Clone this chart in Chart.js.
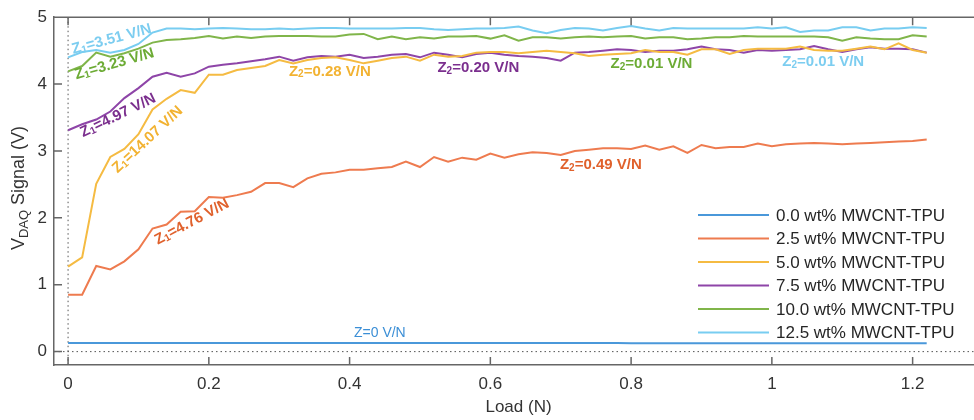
<!DOCTYPE html>
<html>
<head>
<meta charset="utf-8">
<script src="https://cdn.jsdelivr.net/npm/chart.js@4/dist/chart.umd.min.js"></script>
<style>
  html, body { margin: 0; padding: 0; background: #fff; overflow: hidden; }
  #wrap { width: 983px; height: 420px; position: relative; }
</style>
</head>
<body>
<div id="wrap"><canvas id="sensor_chart"></canvas></div>
<script>
const loads = [0.00, 0.02, 0.04, 0.06, 0.08, 0.10, 0.12, 0.14, 0.16, 0.18,
               0.20, 0.22, 0.24, 0.26, 0.28, 0.30, 0.32, 0.34, 0.36, 0.38,
               0.40, 0.42, 0.44, 0.46, 0.48, 0.50, 0.52, 0.54, 0.56, 0.58,
               0.60, 0.62, 0.64, 0.66, 0.68, 0.70, 0.72, 0.74, 0.76, 0.78,
               0.80, 0.82, 0.84, 0.86, 0.88, 0.90, 0.92, 0.94, 0.96, 0.98,
               1.00, 1.02, 1.04, 1.06, 1.08, 1.10, 1.12, 1.14, 1.16, 1.18,
               1.20, 1.22];

const wt00 = [0.13, 0.13, 0.13, 0.13, 0.13, 0.13, 0.13, 0.13, 0.13, 0.13,
              0.13, 0.13, 0.13, 0.13, 0.13, 0.13, 0.13, 0.13, 0.13, 0.13,
              0.13, 0.13, 0.13, 0.13, 0.13, 0.13, 0.13, 0.13, 0.13, 0.13,
              0.13, 0.13, 0.13, 0.13, 0.13, 0.13, 0.13, 0.13, 0.13, 0.13,
              0.125, 0.125, 0.125, 0.125, 0.125, 0.125, 0.125, 0.125, 0.125, 0.125,
              0.125, 0.125, 0.125, 0.125, 0.125, 0.125, 0.125, 0.125, 0.125, 0.125,
              0.125, 0.125];
const wt25 = [0.85, 0.85, 1.28, 1.23, 1.35, 1.53, 1.84, 1.90, 2.09, 2.10,
              2.31, 2.30, 2.34, 2.39, 2.52, 2.52, 2.46, 2.59, 2.66, 2.68,
              2.72, 2.72, 2.74, 2.76, 2.84, 2.76, 2.91, 2.84, 2.90, 2.87,
              2.96, 2.90, 2.95, 2.98, 2.97, 2.94, 3.00, 3.02, 3.04, 3.04,
              3.03, 3.08, 3.02, 3.07, 2.97, 3.09, 3.04, 3.06, 3.06, 3.11,
              3.07, 3.10, 3.11, 3.12, 3.11, 3.10, 3.11, 3.12, 3.13, 3.14,
              3.15, 3.17];
const wt50 = [1.27, 1.41, 2.51, 2.91, 3.03, 3.25, 3.62, 3.78, 3.91, 3.87,
              4.14, 4.14, 4.21, 4.24, 4.27, 4.36, 4.31, 4.36, 4.39, 4.40,
              4.36, 4.31, 4.35, 4.39, 4.41, 4.35, 4.44, 4.41, 4.42, 4.47,
              4.48, 4.48, 4.46, 4.48, 4.50, 4.48, 4.46, 4.42, 4.44, 4.45,
              4.46, 4.51, 4.48, 4.48, 4.44, 4.52, 4.52, 4.45, 4.51, 4.53,
              4.53, 4.53, 4.56, 4.51, 4.50, 4.50, 4.53, 4.56, 4.52, 4.61,
              4.51, 4.47];
const wt75 = [3.31, 3.40, 3.47, 3.59, 3.79, 3.94, 4.11, 4.17, 4.11, 4.16,
              4.26, 4.29, 4.31, 4.34, 4.37, 4.41, 4.35, 4.40, 4.42, 4.41,
              4.44, 4.39, 4.41, 4.44, 4.45, 4.40, 4.47, 4.44, 4.40, 4.45,
              4.47, 4.44, 4.42, 4.41, 4.39, 4.35, 4.47, 4.48, 4.50, 4.52,
              4.51, 4.48, 4.50, 4.50, 4.52, 4.56, 4.52, 4.51, 4.47, 4.51,
              4.50, 4.51, 4.52, 4.57, 4.52, 4.48, 4.52, 4.55, 4.53, 4.53,
              4.52, 4.47];
const wt100 = [4.19, 4.27, 4.47, 4.41, 4.46, 4.53, 4.62, 4.66, 4.67, 4.69,
               4.72, 4.68, 4.71, 4.69, 4.71, 4.72, 4.72, 4.72, 4.71, 4.71,
               4.74, 4.75, 4.67, 4.71, 4.67, 4.70, 4.68, 4.71, 4.71, 4.72,
               4.68, 4.73, 4.65, 4.70, 4.70, 4.68, 4.70, 4.71, 4.70, 4.71,
               4.72, 4.68, 4.70, 4.70, 4.67, 4.68, 4.70, 4.70, 4.72, 4.71,
               4.71, 4.71, 4.71, 4.71, 4.70, 4.65, 4.70, 4.68, 4.67, 4.67,
               4.73, 4.71];
const wt125 = [4.40, 4.48, 4.51, 4.47, 4.51, 4.60, 4.77, 4.83, 4.83, 4.82,
               4.83, 4.84, 4.83, 4.82, 4.82, 4.83, 4.82, 4.83, 4.84, 4.84,
               4.83, 4.83, 4.83, 4.83, 4.84, 4.84, 4.82, 4.81, 4.82, 4.83,
               4.83, 4.84, 4.86, 4.80, 4.76, 4.81, 4.84, 4.83, 4.80, 4.84,
               4.87, 4.83, 4.80, 4.84, 4.83, 4.83, 4.83, 4.83, 4.83, 4.85,
               4.83, 4.85, 4.78, 4.80, 4.80, 4.85, 4.85, 4.80, 4.83, 4.83,
               4.85, 4.84];

const seriesNames = ['0.0 wt% MWCNT-TPU', '2.5 wt% MWCNT-TPU', '5.0 wt% MWCNT-TPU',
                     '7.5 wt% MWCNT-TPU', '10.0 wt% MWCNT-TPU', '12.5 wt% MWCNT-TPU'];
const xTicks = [0, 0.2, 0.4, 0.6, 0.8, 1, 1.2];
const yTicks = [0, 1, 2, 3, 4, 5];

// slope labels placed in data units
const notes = [
    { text: 'Z₁=3.51 V/N',  x: 0.062, y: 4.67, rot: -15, color: '#7ccdf0' },
    { text: 'Z₁=3.23 V/N',  x: 0.066, y: 4.30, rot: -16, color: '#6cab34' },
    { text: 'Z₁=4.97 V/N',  x: 0.071, y: 3.53, rot: -26, color: '#7b2f8e' },
    { text: 'Z₁=14.07 V/N', x: 0.113, y: 3.17, rot: -43, color: '#f2b231' },
    { text: 'Z₁=4.76 V/N',  x: 0.176, y: 1.94, rot: -28, color: '#e0612c' },
    { text: 'Z₂=0.28 V/N',  x: 0.372, y: 4.19, rot: 0,   color: '#f2b231' },
    { text: 'Z₂=0.20 V/N',  x: 0.583, y: 4.24, rot: 0,   color: '#7b2f8e' },
    { text: 'Z₂=0.01 V/N',  x: 0.829, y: 4.30, rot: 0,   color: '#6cab34' },
    { text: 'Z₂=0.01 V/N',  x: 1.073, y: 4.33, rot: 0,   color: '#7ccdf0' },
    { text: 'Z₂=0.49 V/N',  x: 0.757, y: 2.79, rot: 0,   color: '#e0612c' },
    { text: 'Z=0 V/N',      x: 0.443, y: 0.28, rot: 0,   color: '#3c8fd6', normal: true }
];

const colors = ['#4a98da', '#ee7b4f', '#f5bb42', '#8e45a8', '#80b54a', '#78cdf1'];
const FONT = "'Liberation Sans', Arial, Helvetica, sans-serif";

// draw text where ₁ ₂ become small lowered digits
function drawRich(ctx, parts, x, y, rot, size, weight, subSize, subDrop)
{
    ctx.save();
    ctx.translate(x, y);
    ctx.rotate(rot * Math.PI / 180);
    ctx.textBaseline = 'middle';
    ctx.textAlign = 'left';
    let w = 0;
    parts.forEach(p => {
        ctx.font = weight + ' ' + (p.sub ? subSize : size) + 'px ' + FONT;
        p.w = ctx.measureText(p.t).width;
        w += p.w;
    });
    let cx = -w / 2;
    parts.forEach(p => {
        ctx.font = weight + ' ' + (p.sub ? subSize : size) + 'px ' + FONT;
        ctx.fillText(p.t, cx, p.sub ? subDrop : 0);
        cx += p.w;
    });
    ctx.restore();
}

function splitSub(text)
{
    const map = { '₁': '1', '₂': '2' };
    const parts = [];
    for (const ch of text) {
        const sub = ch in map;
        const c = sub ? map[ch] : ch;
        const last = parts[parts.length - 1];
        if (last && last.sub === sub) last.t += c;
        else parts.push({ t: c, sub: sub });
    }
    return parts;
}

const framePlugin = {
    id: 'frame',
    beforeDatasetsDraw(chart) {
        const { ctx, chartArea: a, scales: { x, y } } = chart;
        ctx.save();
        ctx.strokeStyle = '#555';
        ctx.lineWidth = 1;
        ctx.setLineDash([1.5, 3]);
        ctx.beginPath();
        ctx.moveTo(x.getPixelForValue(0), a.top);
        ctx.lineTo(x.getPixelForValue(0), a.bottom);
        ctx.moveTo(a.left, y.getPixelForValue(0));
        ctx.lineTo(a.right, y.getPixelForValue(0));
        ctx.stroke();
        ctx.restore();
    },
    afterDatasetsDraw(chart) {
        const { ctx, chartArea: a, scales: { x, y } } = chart;
        ctx.save();
        ctx.strokeStyle = '#666';
        ctx.lineWidth = 1.5;
        ctx.beginPath();
        ctx.moveTo(a.left, a.top);
        ctx.lineTo(a.right, a.top);
        ctx.lineTo(a.right, a.bottom);
        xTicks.forEach(v => {
            const px = x.getPixelForValue(v);
            ctx.moveTo(px, a.bottom); ctx.lineTo(px, a.bottom - 8);
            ctx.moveTo(px, a.top); ctx.lineTo(px, a.top + 8);
        });
        yTicks.forEach(v => {
            const py = y.getPixelForValue(v);
            ctx.moveTo(a.left, py); ctx.lineTo(a.left + 8, py);
            ctx.moveTo(a.right, py); ctx.lineTo(a.right - 8, py);
        });
        ctx.stroke();
        ctx.restore();

        // slope annotations
        notes.forEach(n => {
            ctx.save();
            ctx.fillStyle = n.color;
            drawRich(ctx, splitSub(n.text), x.getPixelForValue(n.x), y.getPixelForValue(n.y), n.rot,
                     n.normal ? 14 : 15, n.normal ? 'normal' : 'bold', 10, 3);
            ctx.restore();
        });

        // legend
        ctx.save();
        ctx.font = '17px ' + FONT;
        ctx.textBaseline = 'middle';
        chart.data.datasets.forEach((ds, i) => {
            const ly = 215 + i * 23.5;
            ctx.strokeStyle = ds.borderColor;
            ctx.lineWidth = 2;
            ctx.beginPath();
            ctx.moveTo(698, ly);
            ctx.lineTo(769, ly);
            ctx.stroke();
            ctx.fillStyle = '#262626';
            ctx.fillText(ds.label, 776, ly + 1);
        });
        ctx.restore();

        // y axis title with subscript
        ctx.save();
        ctx.fillStyle = '#333';
        drawRich(ctx, [{ t: 'V', sub: false }, { t: 'DAQ', sub: true }, { t: ' Signal (V)', sub: false }],
                 19, 188, -90, 18, 'normal', 13, 5);
        ctx.restore();
    }
};

function prepareChart()
{
    const series = [wt00, wt25, wt50, wt75, wt100, wt125];
    const datasets = series.map((vals, i) => ({
        label: seriesNames[i],
        data: loads.map((l, j) => ({ x: l, y: vals[j] })),
        borderColor: colors[i],
        backgroundColor: colors[i],
        borderWidth: 2,
        pointRadius: 0,
        tension: 0,
        fill: false
    }));

    const tickFont = { size: 17, family: FONT };

    const config = {
        type: 'line',
        data: { datasets: datasets },
        options: {
            responsive: true,
            maintainAspectRatio: false,
            animation: false,
            layout: { padding: { top: 14, left: 0, right: 0, bottom: 0 } },
            plugins: { legend: { display: false }, tooltip: { enabled: false } },
            scales: {
                x: {
                    type: 'linear',
                    min: -0.02,
                    max: 1.3,
                    afterBuildTicks: s => { s.ticks = xTicks.map(v => ({ value: v })); },
                    afterFit: s => { s.height = 55; },
                    grid: { display: false, drawTicks: false },
                    border: { display: true, color: '#666', width: 1.5 },
                    ticks: { padding: 9, color: '#333', font: tickFont, maxRotation: 0,
                             callback: v => String(v) },
                    title: { display: true, text: 'Load (N)', color: '#333', font: tickFont,
                             padding: { top: 0, bottom: 2 } }
                },
                y: {
                    min: -0.2,
                    max: 5,
                    afterBuildTicks: s => { s.ticks = yTicks.map(v => ({ value: v })); },
                    afterFit: s => { s.width = 54; },
                    grid: { display: false, drawTicks: false },
                    border: { display: true, color: '#666', width: 1.5 },
                    ticks: { padding: 7, color: '#333', font: tickFont, callback: v => String(v) }
                }
            }
        },
        plugins: [framePlugin]
    };

    new Chart(document.getElementById('sensor_chart'), config);
}

window.addEventListener('load', prepareChart);
</script>
</body>
</html>
